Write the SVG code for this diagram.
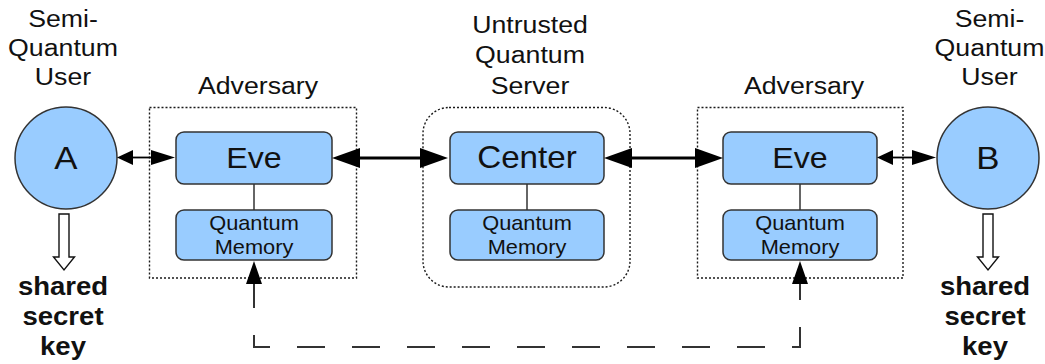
<svg xmlns="http://www.w3.org/2000/svg" width="1045" height="364" viewBox="0 0 1045 364">
  <style>
    text { font-family: "Liberation Sans", Arial, sans-serif; fill: #111; text-anchor: middle; }
    .lbl { font-size: 24.5px; }
    .big { font-size: 29.5px; }
    .ctr { font-size: 30.5px; }
    .usr { font-size: 32px; }
    .mem { font-size: 20px; }
    .key { font-size: 25.5px; font-weight: bold; }
    .box { fill: #99ccff; stroke: #333; stroke-width: 1.5; }
    .frame { fill: none; stroke: #1a1a1a; stroke-width: 1.4; stroke-dasharray: 2 2; }
    .link { stroke: #333; stroke-width: 1.5; fill: none; }
    .hollow { fill: #fff; stroke: #111; stroke-width: 1.4; }
  </style>
  <defs>
    <!-- short and long arrowheads for the thin user links -->
    <marker id="hs" markerUnits="userSpaceOnUse" markerWidth="17" markerHeight="16" refX="0" refY="7.5" orient="auto-start-reverse">
      <path d="M0,0 L16,7.5 L0,15 z" fill="#000"/>
    </marker>
    <marker id="hl" markerUnits="userSpaceOnUse" markerWidth="25" markerHeight="16" refX="0" refY="7.5" orient="auto-start-reverse">
      <path d="M0,0 L24,7.5 L0,15 z" fill="#000"/>
    </marker>
    <!-- large arrowhead for the server links -->
    <marker id="hb" markerUnits="userSpaceOnUse" markerWidth="29" markerHeight="21" refX="0" refY="10" orient="auto-start-reverse">
      <path d="M0,0 L28,10 L0,20 z" fill="#000"/>
    </marker>
    <!-- arrowhead for the shared memory link -->
    <marker id="hm" markerUnits="userSpaceOnUse" markerWidth="24" markerHeight="17" refX="0" refY="8" orient="auto-start-reverse">
      <path d="M0,0 L23,8 L0,16 z" fill="#000"/>
    </marker>
  </defs>

  <rect width="1045" height="364" fill="#fff"/>

  <!-- user A -->
  <g id="userA">
    <g transform="translate(63,0) scale(1.09,1)">
      <text class="lbl" x="0" y="27">Semi-</text>
      <text class="lbl" x="0" y="56">Quantum</text>
      <text class="lbl" x="0" y="85">User</text>
    </g>
    <circle class="box" cx="66" cy="158" r="51"/>
    <text class="usr" transform="translate(66,169) scale(1.09,1)" x="0" y="0">A</text>
    <polygon class="hollow" points="59,214 69,214 69,257 74.5,257 64,270 53.5,257 59,257"/>
    <g transform="translate(63,0) scale(1.08,1)">
      <text class="key" x="0" y="295">shared</text>
      <text class="key" x="0" y="325">secret</text>
      <text class="key" x="0" y="355">key</text>
    </g>
  </g>

  <!-- adversary near A -->
  <g id="adversaryA">
    <text class="lbl" transform="translate(258,94) scale(1.09,1)" x="0" y="0">Adversary</text>
    <rect class="frame" x="149.5" y="107.5" width="207" height="170.5"/>
    <rect class="box" x="176" y="132" width="156" height="52" rx="8"/>
    <text class="big" transform="translate(254,168) scale(1.09,1)" x="0" y="0">Eve</text>
    <line class="link" x1="254" y1="184" x2="254" y2="210"/>
    <rect class="box" x="176" y="210" width="156" height="50" rx="8"/>
    <g transform="translate(254,0) scale(1.09,1)">
      <text class="mem" x="0" y="230">Quantum</text>
      <text class="mem" x="0" y="254">Memory</text>
    </g>
  </g>

  <!-- untrusted server -->
  <g id="server">
    <g transform="translate(530,0) scale(1.09,1)">
      <text class="lbl" x="0" y="33">Untrusted</text>
      <text class="lbl" x="0" y="63.5">Quantum</text>
      <text class="lbl" x="0" y="94">Server</text>
    </g>
    <rect class="frame" x="423" y="107.5" width="207" height="179.5" rx="26"/>
    <rect class="box" x="450" y="132" width="154" height="52" rx="8"/>
    <text class="ctr" transform="translate(527,168) scale(1.09,1)" x="0" y="0">Center</text>
    <line class="link" x1="527" y1="184" x2="527" y2="210"/>
    <rect class="box" x="450" y="210" width="154" height="50" rx="8"/>
    <g transform="translate(527,0) scale(1.09,1)">
      <text class="mem" x="0" y="230">Quantum</text>
      <text class="mem" x="0" y="254">Memory</text>
    </g>
  </g>

  <!-- adversary near B -->
  <g id="adversaryB">
    <text class="lbl" transform="translate(804,94) scale(1.09,1)" x="0" y="0">Adversary</text>
    <rect class="frame" x="697.5" y="107.5" width="205.5" height="170.5"/>
    <rect class="box" x="723" y="132" width="154" height="52" rx="8"/>
    <text class="big" transform="translate(800,168) scale(1.09,1)" x="0" y="0">Eve</text>
    <line class="link" x1="800" y1="184" x2="800" y2="210"/>
    <rect class="box" x="723" y="210" width="154" height="50" rx="8"/>
    <g transform="translate(800,0) scale(1.09,1)">
      <text class="mem" x="0" y="230">Quantum</text>
      <text class="mem" x="0" y="254">Memory</text>
    </g>
  </g>

  <!-- user B -->
  <g id="userB">
    <g transform="translate(989.5,0) scale(1.09,1)">
      <text class="lbl" x="0" y="27">Semi-</text>
      <text class="lbl" x="0" y="56">Quantum</text>
      <text class="lbl" x="0" y="85">User</text>
    </g>
    <circle class="box" cx="988" cy="158" r="51"/>
    <text class="usr" transform="translate(988,169) scale(1.09,1)" x="0" y="0">B</text>
    <polygon class="hollow" points="983,214 993,214 993,257 998.5,257 988,270 977.5,257 983,257"/>
    <g transform="translate(985,0) scale(1.08,1)">
      <text class="key" x="0" y="295">shared</text>
      <text class="key" x="0" y="325">secret</text>
      <text class="key" x="0" y="355">key</text>
    </g>
  </g>

  <!-- links between parties -->
  <g id="connectors">
    <path d="M133,157.5 H151" stroke="#000" stroke-width="1.8" marker-start="url(#hs)" marker-end="url(#hl)"/>
    <path d="M360,158 H420" stroke="#000" stroke-width="3" marker-start="url(#hb)" marker-end="url(#hb)"/>
    <path d="M632,158 H695" stroke="#000" stroke-width="3" marker-start="url(#hb)" marker-end="url(#hb)"/>
    <path d="M893,157.5 H912" stroke="#000" stroke-width="1.8" marker-start="url(#hs)" marker-end="url(#hl)"/>
    <path d="M254,284 V347 H800 V284" fill="none" stroke="#333" stroke-width="2" stroke-dasharray="28 27" stroke-dashoffset="4" marker-start="url(#hm)" marker-end="url(#hm)"/>
  </g>
</svg>
